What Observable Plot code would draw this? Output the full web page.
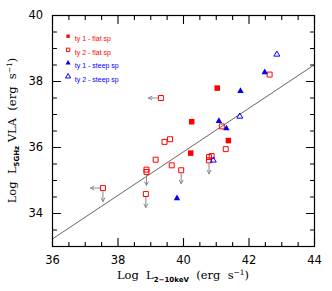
<!DOCTYPE html>
<html><head><meta charset="utf-8">
<script src="https://cdn.jsdelivr.net/npm/d3@7"></script>
<script src="https://cdn.jsdelivr.net/npm/@observablehq/plot@0.6"></script>
<style>body{margin:0;background:#fff} svg{display:block}</style>
</head><body><div id="chart"></div>
<script>
// ---- data (log luminosities) ----
const ty1FlatX = [41.03, 40.25, 41.37, 40.22];
const ty1FlatY = [37.80, 36.78, 36.21, 35.83];
const ty2FlatX = [42.63, 39.31, 39.42, 39.59, 41.17, 41.29, 40.78, 40.86, 40.78, 39.64, 39.93, 39.15, 38.87, 38.87, 38.85, 37.54];
const ty2FlatY = [38.21, 37.50, 36.17, 36.25, 36.64, 35.95, 35.71, 35.74, 35.61, 35.46, 35.31, 35.63, 35.33, 35.26, 34.59, 34.77];
const ty1SteepX = [42.48, 41.74, 41.08, 41.31, 39.80];
const ty1SteepY = [38.28, 37.71, 36.80, 36.58, 34.46];
const ty2SteepX = [42.85, 41.72, 40.91];
const ty2SteepY = [38.82, 36.94, 35.61];
// upper limits in radio (down arrows) and in X-rays (left arrows)
const downLimX = [37.54, 38.87, 38.85, 39.93, 40.78];
const downLimY = [34.77, 35.26, 34.59, 35.31, 35.61];
const leftLimX = [39.31, 37.54];
const leftLimY = [37.50, 34.77];
// fitted correlation (end points)
const fitX = [36, 44];
const fitY = [33.23, 38.51];
// axes
const xMajor = [36, 38, 40, 42, 44];
const xMinor = [36.5, 37, 37.5, 38.5, 39, 39.5, 40.5, 41, 41.5, 42.5, 43, 43.5];
const yMajor = [34, 36, 38, 40];
const yMinor = [33.5, 34.5, 35, 35.5, 36.5, 37, 37.5, 38.5, 39, 39.5];
// legend
const legendLabels = ["ty 1 - flat sp", "ty 2 - flat sp", "ty 1 - steep sp", "ty 2 - steep sp"];
const legendColors = ["#ff0000", "#ff0000", "#0000ff", "#0000ff"];
const legendSymbols = ["square", "square", "triangle", "triangle"];
const legendFilled = [true, false, true, false];

const pts = (xs, ys) => xs.map((x, i) => ({x, y: ys[i]}));
const RED = "#ff0000", BLUE = "#0000ff";

const tickShape = {draw(ctx, l) { ctx.moveTo(0, 0); ctx.lineTo(0, -l); }};
const arrowShape = {draw(ctx, l) {
  ctx.moveTo(0, -3.5); ctx.lineTo(0, -l);
  ctx.moveTo(-1.8, -l + 3.5); ctx.lineTo(0, -l); ctx.lineTo(1.8, -l + 3.5);
}};

function ticks(values, dim, anchor, rotate, len) {
  const o = {frameAnchor: anchor, length: len, rotate, anchor: "start", shape: tickShape, stroke: "black", strokeWidth: 1.1};
  o[dim] = d => d;
  return Plot.vector(values, o);
}

const legendMarks = [];
legendLabels.forEach((lab, i) => {
  const dy = 20.7 + 13.6 * i;
  const isTri = legendSymbols[i] === "triangle";
  legendMarks.push(Plot.dot([lab], {
    frameAnchor: "top-left", dx: 15.6, dy: isTri ? dy - 0.5 : dy,
    symbol: legendSymbols[i], r: 1.9,
    fill: legendFilled[i] ? legendColors[i] : "white",
    stroke: legendColors[i], strokeWidth: legendFilled[i] ? 0 : 1
  }));
  legendMarks.push(Plot.text([lab], {
    frameAnchor: "top-left", dx: 22.3, dy, text: d => d, textAnchor: "start",
    fill: legendColors[i], fontSize: 7, fontFamily: "Liberation Sans, Arial, sans-serif"
  }));
});

const plot = Plot.plot({
  width: 332, height: 291,
  marginLeft: 52, marginRight: 18, marginTop: 15, marginBottom: 45,
  x: {domain: [36, 44]},
  y: {domain: [33, 40]},
  style: {fontFamily: "DejaVu Sans, sans-serif", background: "white"},
  marks: [
    Plot.line(pts(fitX, fitY), {x: "x", y: "y", stroke: "#555", strokeWidth: 0.9}),
    Plot.vector(pts(downLimX, downLimY), {x: "x", y: "y", rotate: 180, length: 13.5, anchor: "start", shape: arrowShape, stroke: "#8a8a8a", strokeWidth: 1}),
    Plot.vector(pts(leftLimX, leftLimY), {x: "x", y: "y", rotate: 270, length: 12.5, anchor: "start", shape: arrowShape, stroke: "#8a8a8a", strokeWidth: 1}),
    Plot.dot(pts(ty2FlatX, ty2FlatY), {x: "x", y: "y", symbol: "square", r: 2.8, stroke: RED, strokeWidth: 1, fill: "none"}),
    Plot.dot(pts(ty1FlatX, ty1FlatY), {x: "x", y: "y", symbol: "square", r: 3.1, fill: RED}),
    Plot.dot(pts(ty1SteepX, ty1SteepY), {x: "x", y: "y", symbol: "triangle", r: 2.4, fill: BLUE}),
    Plot.dot(pts(ty2SteepX, ty2SteepY), {x: "x", y: "y", symbol: "triangle", r: 2.2, stroke: BLUE, strokeWidth: 1, fill: "none"}),
    ...legendMarks,
    ticks(xMajor, "x", "bottom", 0, 8), ticks(xMinor, "x", "bottom", 0, 4),
    ticks(xMajor, "x", "top", 180, 8), ticks(xMinor, "x", "top", 180, 4),
    ticks(yMajor, "y", "left", 90, 8), ticks(yMinor, "y", "left", 90, 4),
    ticks(yMajor, "y", "right", 270, 8), ticks(yMinor, "y", "right", 270, 4),
    Plot.axisX({ticks: xMajor, tickSize: 0, tickPadding: 9.5, label: null, fontSize: 11.5, tickFormat: d => d, fill: "black"}),
    Plot.axisY({ticks: yMajor, tickSize: 0, tickPadding: 9.4, label: null, fontSize: 11.5, tickFormat: d => d, fill: "black"}),
    Plot.frame({stroke: "black", strokeWidth: 1.2})
  ]
});

const svg = d3.select(plot);
const serif = "DejaVu Serif, serif";
const subFont = "DejaVu Sans, sans-serif";
function label(t, parts) {
  parts.forEach(p => {
    const ts = t.append("tspan").text(p.t);
    if (p.sub) ts.attr("dy", 2.5).attr("font-size", 7).attr("font-weight", "bold").attr("font-family", subFont);
    if (p.sup) ts.attr("dy", -4.5).attr("font-size", 7.5).attr("font-family", serif);
    if (p.back) ts.attr("dy", p.back);
  });
}
const xl = svg.append("text").attr("x", 183).attr("y", 279).attr("text-anchor", "middle")
  .attr("font-family", serif).attr("font-size", 11.5).attr("fill", "black");
label(xl, [{t: "Log  L"}, {t: "2\u221210keV", sub: true}, {t: "  (erg  s", back: -2.5}, {t: "\u22121", sup: true}, {t: ")", back: 4.5}]);
const yl = svg.append("text").attr("transform", "translate(16,130.5) rotate(-90)").attr("text-anchor", "middle")
  .attr("font-family", serif).attr("font-size", 11.5).attr("fill", "black");
label(yl, [{t: "Log  L"}, {t: "5GHz", sub: true}, {t: " VLA  (erg  s", back: -2.5}, {t: "\u22121", sup: true}, {t: ")", back: 4.5}]);

document.getElementById("chart").appendChild(plot);
</script>
</body></html>
